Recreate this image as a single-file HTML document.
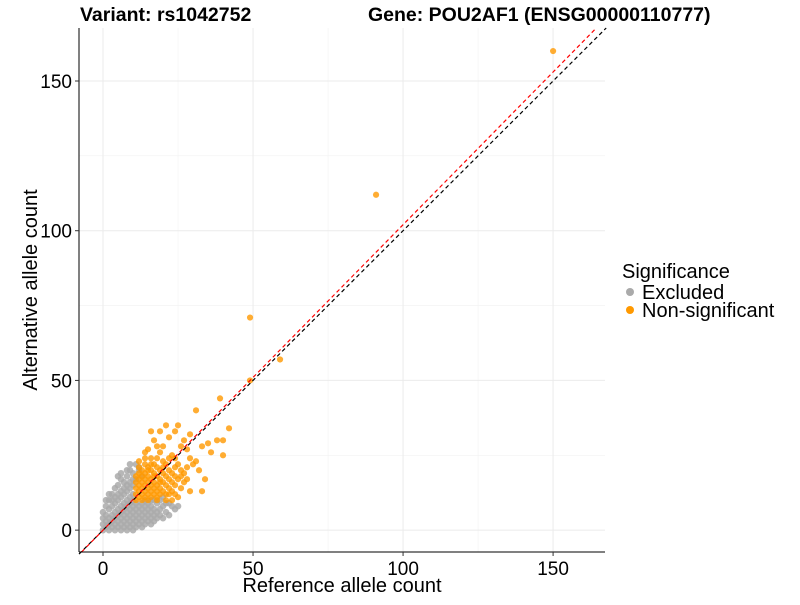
<!DOCTYPE html>
<html><head><meta charset="utf-8"><style>
body{margin:0;background:#fff;font-family:"Liberation Sans",Arial,sans-serif}
</style></head><body>
<svg id="chart" width="800" height="600" xmlns="http://www.w3.org/2000/svg" font-family="Liberation Sans, Arial, sans-serif">
<text x="80" y="21" font-size="19.5" font-weight="bold">Variant: rs1042752</text>
<text x="368" y="21" font-size="19.5" font-weight="bold">Gene: POU2AF1 (ENSG00000110777)</text>
<g id="grid"></g>
<g id="pts"></g>
<g id="lines"></g>
<g id="axes"></g>
<text x="342" y="592" font-size="20" text-anchor="middle">Reference allele count</text>
<text transform="translate(37,290) rotate(-90)" font-size="20" text-anchor="middle">Alternative allele count</text>
<g>
<text x="622" y="278" font-size="20">Significance</text>
<circle cx="630" cy="292" r="4" fill="#aaaaaa"/>
<text x="642" y="299" font-size="20">Excluded</text>
<circle cx="630" cy="310" r="4" fill="#ff9900"/>
<text x="642" y="317" font-size="20">Non-significant</text>
</g>
</svg>
<script>
const xTicks=[0,50,100,150];
const yTicks=[0,50,100,150];
const minorTicks=[25,75,125];
const greyX=[0,0,0,0,1,1,1,1,2,2,2,2,2,3,3,3,3,3,4,4,4,4,4,4,5,5,5,5,5,5,6,6,6,6,6,6,6,7,7,7,7,7,7,7,8,8,8,8,8,8,8,8,9,9,9,9,9,9,9,9,10,10,10,10,10,10,10,10,10,11,11,11,11,11,11,12,12,12,12,12,13,13,13,13,13,14,14,14,14,15,15,15,15,16,16,16,16,17,17,17,18,18,18,19,19,20,20,21,22,22,24,25,20,17,13,12,11,1,3,5,7,9,2,4,6,8,10,19,21,23,16,14,5,6,8,9];
const greyY=[0,2,4,6,1,3,5,8,0,2,4,7,10,1,3,5,8,12,0,2,4,6,9,14,1,3,5,7,10,15,0,2,4,6,8,11,17,1,3,5,7,9,12,16,0,2,4,6,8,10,13,18,1,3,5,7,9,11,14,20,0,2,4,6,8,10,12,15,19,1,3,5,7,9,17,2,4,6,8,21,1,3,5,7,9,2,4,6,8,3,5,7,9,2,4,6,8,3,5,7,4,6,9,5,7,4,8,6,5,9,7,8,11,10,18,20,22,10,10,12,14,16,12,11,13,15,17,10,9,8,10,10,18,19,20,22];
const orangeX=[11,11,11,11,11,12,12,12,12,12,13,13,13,13,13,14,14,14,14,14,14,15,15,15,15,15,15,16,16,16,16,16,16,17,17,17,17,17,18,18,18,18,18,19,19,19,19,19,20,20,20,20,21,21,21,21,22,22,22,23,23,23,24,24,24,25,25,26,26,27,27,28,28,29,30,31,32,33,34,36,38,40,40,42,39,31,25,24,29,27,17,18,20,22,15,14,16,21,19,26,23,28,33,35,21,29,25,23,18,12,13,15,17,19,20,22,24,16,18,22,24,26,12,14,49,91,150,59,49];
const orangeY=[10,12,14,16,18,11,13,15,17,19,10,12,14,16,20,11,13,15,17,19,22,10,12,14,16,18,21,11,13,15,17,20,24,12,14,16,19,22,11,13,15,18,21,12,14,17,20,26,13,16,19,23,12,15,18,22,14,17,20,13,16,19,15,18,21,17,22,14,20,16,19,21,17,24,22,23,20,13,17,26,30,30,25,34,44,40,35,33,32,30,30,28,28,31,27,26,33,35,33,28,25,27,28,29,10,13,11,10,10,21,18,20,18,16,21,12,12,22,24,24,24,18,23,24,71,112,160,57,50];
const X0=79,X1=605,Y0=552,Y1=28,xmin=-8,xmax=167.3,ymin=-7.3,ymax=167.7;
const sx=v=>X0+(v-xmin)/(xmax-xmin)*(X1-X0);
const sy=v=>Y0-(v-ymin)/(ymax-ymin)*(Y0-Y1);
const NS="http://www.w3.org/2000/svg";
function mk(t,a,p){const e=document.createElementNS(NS,t);for(const k in a)e.setAttribute(k,a[k]);p.appendChild(e);return e;}
const grid=document.getElementById('grid');
minorTicks.forEach(v=>{
 let l=mk('line',{x1:sx(v),x2:sx(v),y1:Y1,y2:Y0,stroke:'#f2f2f2','stroke-width':0.6},grid);
 
 
 l=mk('line',{x1:X0,x2:X1,y1:sy(v),y2:sy(v),stroke:'#f2f2f2','stroke-width':0.6},grid);
 
 
});
xTicks.forEach(v=>{
 const l=mk('line',{x1:sx(v),x2:sx(v),y1:Y1,y2:Y0,stroke:'#ebebeb','stroke-width':1},grid);
 
 
});
yTicks.forEach(v=>{
 const l=mk('line',{x1:X0,x2:X1,y1:sy(v),y2:sy(v),stroke:'#ebebeb','stroke-width':1},grid);
 
 
});
const pts=document.getElementById('pts');
greyX.forEach((x,i)=>{
 const c=mk('circle',{cx:sx(x),cy:sy(greyY[i]),r:3.3,fill:'#aaaaaa','fill-opacity':0.85},pts);
 
 
});
orangeX.forEach((x,i)=>{
 const c=mk('circle',{cx:sx(x),cy:sy(orangeY[i]),r:3.1,fill:'#ff9900','fill-opacity':0.8},pts);
 
 
});
const lines=document.getElementById('lines');
let bl=mk('line',{x1:sx(xmin),y1:sy(xmin),x2:sx(ymax),y2:sy(ymax),stroke:'#000','stroke-width':1.2,'stroke-dasharray':'4,3'},lines);


const slope=1.02;
let rl=mk('line',{x1:sx(ymin/slope),y1:sy(ymin),x2:sx(ymax/slope),y2:sy(ymax),stroke:'#ff0000','stroke-width':1.2,'stroke-dasharray':'4,3'},lines);


const axes=document.getElementById('axes');
mk('line',{x1:X0,x2:X0,y1:Y1,y2:Y0,stroke:'#000','stroke-width':1},axes);
mk('line',{x1:X0,x2:X1,y1:Y0,y2:Y0,stroke:'#000','stroke-width':1},axes);
xTicks.forEach(v=>{
 mk('line',{x1:sx(v),x2:sx(v),y1:Y0,y2:Y0+4,stroke:'#333'},axes);
 const t=mk('text',{x:sx(v),y:575,'font-size':19,'text-anchor':'middle',fill:'#000'},axes);
 t.textContent=v;
 
 
});
yTicks.forEach(v=>{
 mk('line',{x1:X0-4,x2:X0,y1:sy(v),y2:sy(v),stroke:'#333'},axes);
 const t=mk('text',{x:72,y:sy(v)+7,'font-size':19,'text-anchor':'end',fill:'#000'},axes);
 t.textContent=v;
 
 
});
</script>
</body></html>
